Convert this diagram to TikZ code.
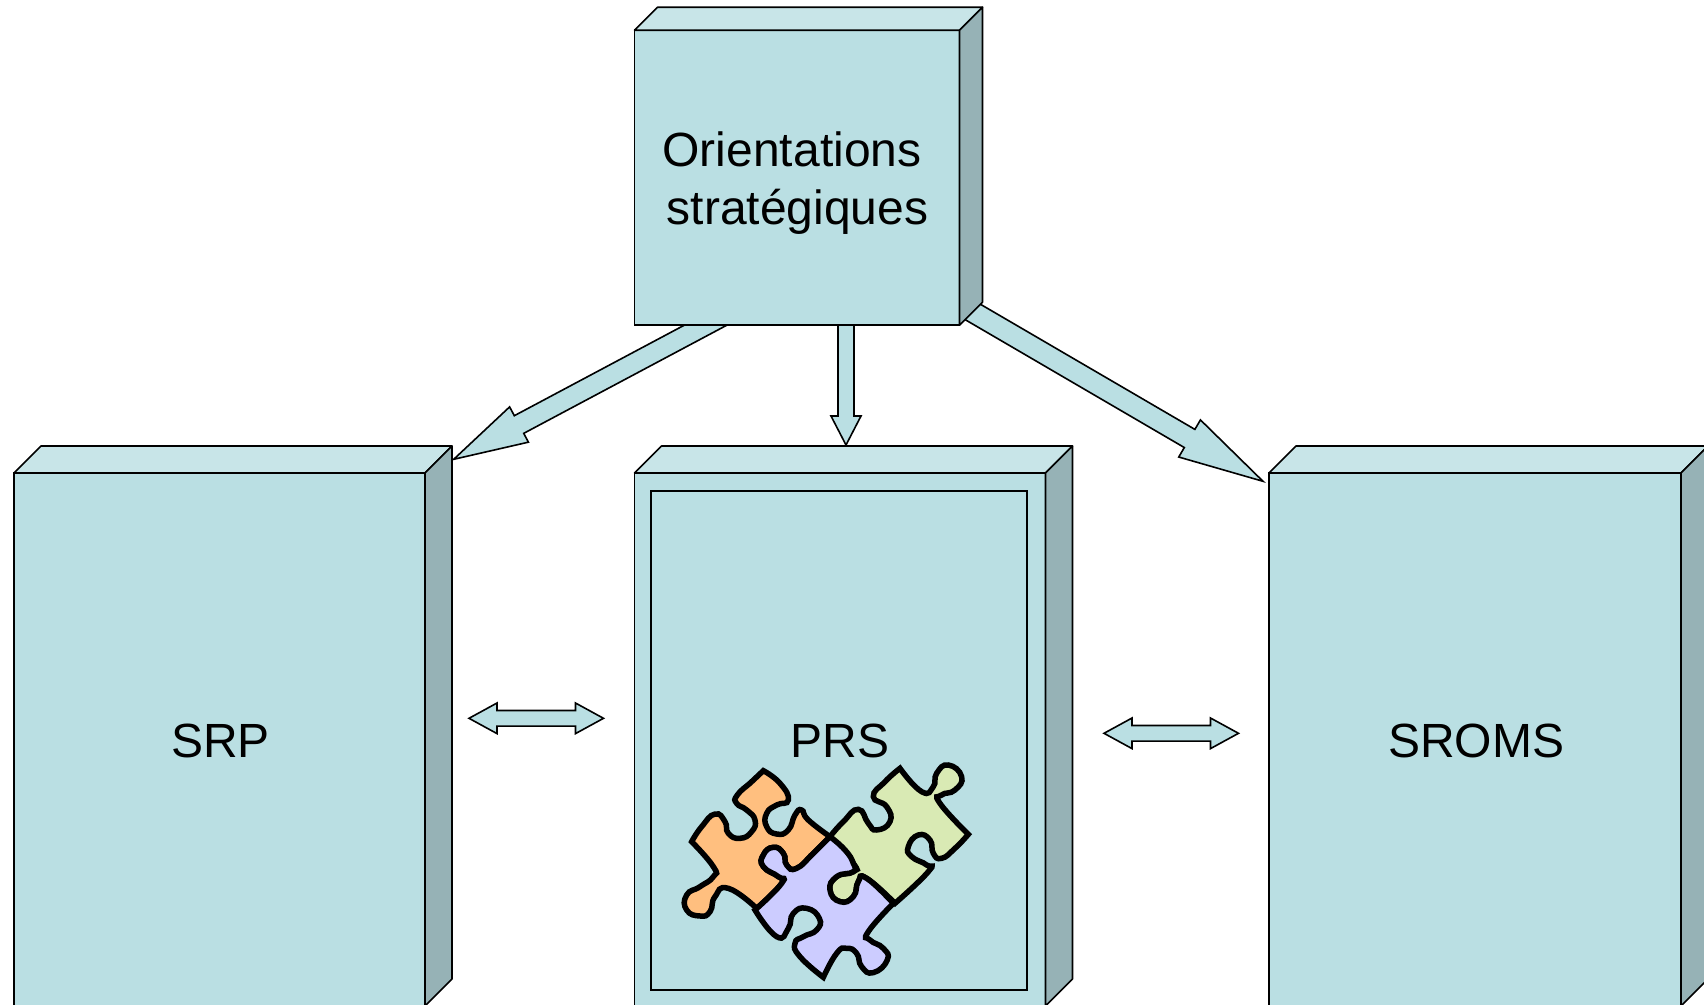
\documentclass[tikz,border=0pt]{standalone}
\usepackage{fontspec}
\setmainfont{Liberation Sans}
\usetikzlibrary{calc}
\definecolor{cubeFront}{HTML}{BADFE3}
\definecolor{cubeTop}{HTML}{C8E5E8}
\definecolor{cubeSide}{HTML}{96B2B6}
\definecolor{pieceOrange}{HTML}{FFBF7F}
\definecolor{pieceGreen}{HTML}{D9EAB4}
\definecolor{pieceViolet}{HTML}{CCCCFF}
\tikzset{
    cubeBox/.style={rectangle, draw=black, fill=cubeFront, line width=1.6pt, inner sep=0pt, outer sep=0pt},
    cubeFace/.style={draw=black, line width=1.6pt, line join=round},
    innerBox/.style={cubeBox, fill=none},
    cubeLabel/.style={inner sep=0pt, align=center, font=\fontsize{48}{58.5}\selectfont},
    flowArrow/.style={draw=black, fill=cubeFront, line width=1.6pt, line join=miter},
    jigsaw/.style={smooth, tension=0.9},
    pieceEdge/.style={draw=black, line width=5.5pt, line join=miter},
}
\newcommand{\drawFaces}[2]{
    \draw[cubeFace, fill=cubeTop] (#1.north west) -- ++(#2,-#2) -- ($(#1.north east)+(#2,-#2)$) -- (#1.north east) -- cycle;
    \draw[cubeFace, fill=cubeSide] (#1.north east) -- ++(#2,-#2) -- ($(#1.south east)+(#2,-#2)$) -- (#1.south east) -- cycle;
}
\newcommand{\drawFlow}[5]{
    \coordinate (headBase) at ($(#2)!#5!(#1)$);
    \draw[flowArrow] ($(#1)!#3!90:(#2)$) -- ($(headBase)!#3!90:(#2)$) -- ($(headBase)!#4!90:(#2)$) -- (#2)
        -- ($(headBase)!#4!-90:(#2)$) -- ($(headBase)!#3!-90:(#2)$) -- ($(#1)!#3!-90:(#2)$) -- cycle;
}
\newcommand{\drawBoth}[5]{
    \coordinate (headA) at ($(#1)!#5!(#2)$);
    \coordinate (headB) at ($(#2)!#5!(#1)$);
    \draw[flowArrow] (#1) -- ($(headA)!#4!-90:(#2)$) -- ($(headA)!#3!-90:(#2)$) -- ($(headB)!#3!90:(#1)$) -- ($(headB)!#4!90:(#1)$) -- (#2)
        -- ($(headB)!#4!-90:(#1)$) -- ($(headB)!#3!-90:(#1)$) -- ($(headA)!#3!90:(#2)$) -- ($(headA)!#4!90:(#2)$) -- cycle;
}
\begin{document}
\begin{tikzpicture}[x=1pt, y=-1pt]
    \useasboundingbox (0,0) rectangle (1704,1004);

    % arrows leave from under the top box
    \coordinate (fromLeft) at (722.8,316);
    \coordinate (toLeft) at (453.7,459.3);
    \coordinate (fromMid) at (846,325);
    \coordinate (toMid) at (846,445);
    \coordinate (fromRight) at (965,307.4);
    \coordinate (toRight) at (1263,481.3);
    \drawFlow{fromLeft}{toLeft}{10pt}{20pt}{74pt}
    \drawFlow{fromMid}{toMid}{8pt}{15pt}{29pt}
    \drawFlow{fromRight}{toRight}{10.5pt}{21.5pt}{85pt}

    \node[cubeBox, minimum width=325pt, minimum height=295pt] (orient) at (797,177.7) {};
    \drawFaces{orient}{23}
    \node[cubeLabel] (orientText) at (797.5,183) {Orientations\hspace*{11pt}\\stratégiques};

    \node[cubeBox, minimum width=411pt, minimum height=533pt] (srp) at (219.5,739.5) {};
    \drawFaces{srp}{27}
    \node[cubeLabel] (srpText) at (220.5,741) {SRP};
    \node[cubeBox, minimum width=411pt, minimum height=533pt] (prsOuter) at (840,739.5) {};
    \drawFaces{prsOuter}{27}
    \node[innerBox, minimum width=376pt, minimum height=499pt] (prsInner) at (839,740.5) {};
    \node[cubeLabel] (prsText) at (839.8,741) {PRS};
    \node[cubeBox, minimum width=412pt, minimum height=533pt] (sroms) at (1475,739.5) {};
    \drawFaces{sroms}{27}
    \node[cubeLabel] (sromsText) at (1476,741) {SROMS};

    \coordinate (linkLeftA) at (469,718.3);
    \coordinate (linkLeftB) at (603.5,718.3);
    \coordinate (linkRightA) at (1104,733.3);
    \coordinate (linkRightB) at (1238.5,733.3);
    \drawBoth{linkLeftA}{linkLeftB}{7.8pt}{15.3pt}{28pt}
    \drawBoth{linkRightA}{linkRightB}{7.8pt}{15.3pt}{28pt}

    % puzzle, in zoomed pixels
    \begin{scope}[shift={(660,740)}, x=0.3333pt, y=-0.3333pt]
        \filldraw[pieceEdge, fill=pieceOrange]
            plot[jigsaw] coordinates {(95,305) (125,260) (165,222) (195,245) (205,280) (240,295) (275,275) (285,240) (260,210) (230,190) (232,165) (275,125) (310,92)}
            -- plot[jigsaw] coordinates {(310,92) (360,130) (385,180) (350,195) (320,220) (320,260) (350,282) (385,270) (405,225) (425,210) (445,240) (510,290)}
            -- plot[jigsaw] coordinates {(510,290) (460,340) (410,385) (380,375) (370,340) (340,322) (310,345) (310,380) (355,410) (365,430) (290,505)}
            -- plot[jigsaw] coordinates {(290,505) (205,445) (165,470) (150,515) (120,528) (80,510) (80,465) (120,440) (160,410) (160,380) (95,305)}
            -- cycle;
        \filldraw[pieceEdge, fill=pieceGreen]
            plot[jigsaw] coordinates {(510,290) (550,245) (595,208) (625,250) (650,270) (690,245) (680,200) (640,170) (675,125) (720,85)}
            -- plot[jigsaw] coordinates {(720,85) (785,155) (820,140) (830,100) (865,75) (905,110) (885,150) (845,165) (840,190) (925,283)}
            -- plot[jigsaw] coordinates {(925,283) (885,325) (845,355) (820,340) (810,300) (775,285) (745,320) (755,350) (800,375) (805,395) (705,490)}
            -- plot[jigsaw] coordinates {(705,490) (620,415) (595,425) (580,470) (540,485) (510,450) (530,410) (580,395) (580,370) (510,290)}
            -- cycle;
        \filldraw[pieceEdge, fill=pieceViolet]
            plot[jigsaw] coordinates {(510,290) (555,330) (580,370) (580,395) (530,410) (510,450) (540,485) (580,470) (595,425) (620,415) (700,490)}
            -- plot[jigsaw] coordinates {(700,490) (625,575) (630,600) (670,625) (682,660) (640,698) (605,680) (590,640) (560,625) (530,640) (490,712)}
            -- plot[jigsaw] coordinates {(490,712) (420,650) (405,610) (430,590) (470,570) (478,535) (440,505) (400,520) (385,565) (350,590) (285,510)}
            -- plot[jigsaw] coordinates {(285,510) (365,430) (355,410) (310,380) (310,345) (340,322) (370,340) (380,375) (410,385) (460,340) (510,290)}
            -- cycle;
    \end{scope}
\end{tikzpicture}
\end{document}
